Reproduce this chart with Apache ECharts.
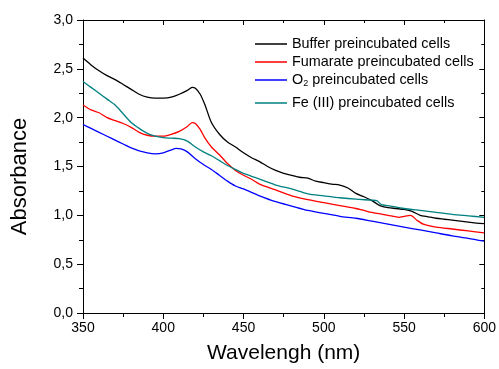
<!DOCTYPE html>
<html>
<head>
<meta charset="utf-8">
<script src="https://cdn.jsdelivr.net/npm/echarts@6/dist/echarts.min.js"></script>
<style>
  html, body { margin: 0; padding: 0; background: #fff; }
  #chart { width: 499px; height: 369px; }
</style>
</head>
<body>
<div id="chart"></div>
<script>
// Absorption spectra of whole cells after different preincubations
const seriesNames = [
  'Buffer preincubated cells',
  'Fumarate preincubated cells',
  'O2 preincubated cells',
  'Fe (III) preincubated cells'
];
const seriesColors = ['#000000', '#ff0000', '#0000ff', '#008080'];

const bufferNm  = [350,355,360,365,370,375,380,385,390,395,400,405,410,415,418,420,423,426,430,435,440,445,450,455,460,465,470,475,480,485,490,495,500,505,510,515,520,525,530,535,540,545,550,555,560,565,570,575,580,585,590,595,600];
const bufferAbs = [2.61,2.54,2.48,2.43,2.39,2.34,2.29,2.24,2.21,2.20,2.20,2.21,2.24,2.28,2.31,2.30,2.24,2.13,1.95,1.83,1.75,1.70,1.64,1.59,1.55,1.50,1.46,1.43,1.41,1.39,1.38,1.35,1.335,1.32,1.31,1.28,1.225,1.19,1.15,1.10,1.08,1.07,1.06,1.04,1.00,0.985,0.97,0.96,0.95,0.94,0.93,0.92,0.915];

const fumarateNm  = [350,355,360,365,370,375,380,385,390,395,400,405,410,415,418,420,423,426,430,435,440,445,450,455,460,470,480,490,500,510,520,525,530,540,547,550,554,558,562,570,580,590,600];
const fumarateAbs = [2.13,2.08,2.05,2.00,1.97,1.94,1.90,1.85,1.82,1.81,1.81,1.83,1.86,1.91,1.95,1.94,1.88,1.79,1.70,1.62,1.53,1.46,1.41,1.37,1.32,1.26,1.20,1.16,1.13,1.10,1.07,1.05,1.03,1.00,0.98,0.99,1.00,0.95,0.91,0.88,0.86,0.84,0.82];

const o2Nm  = [350,355,360,365,370,375,380,385,390,395,400,405,408,411,415,420,425,430,435,440,445,450,460,470,480,490,500,510,520,530,540,550,560,570,580,590,600];
const o2Abs = [1.93,1.89,1.85,1.81,1.77,1.73,1.69,1.66,1.64,1.63,1.64,1.67,1.685,1.68,1.65,1.58,1.52,1.47,1.41,1.35,1.30,1.27,1.20,1.14,1.095,1.05,1.02,0.99,0.97,0.94,0.91,0.88,0.85,0.82,0.79,0.765,0.735];

const ironNm  = [350,355,360,365,370,375,380,385,390,395,400,405,410,415,420,425,430,435,440,445,450,455,460,465,470,480,490,500,510,520,530,533,536,540,550,560,570,580,590,600];
const ironAbs = [2.37,2.31,2.25,2.19,2.13,2.04,1.95,1.89,1.84,1.81,1.795,1.79,1.785,1.76,1.70,1.65,1.61,1.56,1.51,1.47,1.43,1.40,1.37,1.34,1.31,1.27,1.22,1.20,1.18,1.165,1.155,1.15,1.11,1.10,1.07,1.05,1.03,1.01,0.995,0.98];

// x/y tick configuration
const xMin = 350, xMax = 600, xStep = 50;
const yMin = 0, yMax = 3, yStep = 0.5;

const pairs = (xs, ys) => xs.map((x, i) => [x, ys[i]]);
const seriesData = [
  pairs(bufferNm, bufferAbs),
  pairs(fumarateNm, fumarateAbs),
  pairs(o2Nm, o2Abs),
  pairs(ironNm, ironAbs)
];

const FONT = 'Liberation Sans, Arial, sans-serif';
const commaFmt = v => v.toFixed(1).replace('.', ',');

const chart = echarts.init(document.getElementById('chart'), null, { renderer: 'canvas' });

const axisLine = () => ({ show: true, onZero: false, lineStyle: { color: '#000', width: 1 } });

const legendTops = [37, 55, 73, 96];
const legends = seriesNames.map((name, i) => ({
  data: [name],
  left: 255,
  top: legendTops[i],
  icon: 'rect',
  itemWidth: 32,
  itemHeight: 1.5,
  itemGap: 0,
  padding: 0,
  selectedMode: false,
  textStyle: {
    fontFamily: FONT, fontSize: 14.4, color: '#000',
    rich: { sub: { fontFamily: FONT, fontSize: 9, color: '#000', verticalAlign: 'bottom', padding: [8, 0, 0, 0] } }
  },
  formatter: n => n === 'O2 preincubated cells' ? 'O{sub|2} preincubated cells' : n
}));

// top and right edges of the plot frame, in data coordinates
const frameLines = {
  silent: true,
  symbol: ['none', 'none'],
  label: { show: false },
  animation: false,
  lineStyle: { color: '#000', width: 1, type: 'solid' },
  emphasis: { disabled: true },
  data: [
    [{ coord: [xMin, yMax] }, { coord: [xMax, yMax] }],
    [{ coord: [xMax, yMax] }, { coord: [xMax, yMin] }]
  ]
};

const lineSeries = seriesNames.map((name, i) => ({
  name,
  type: 'line',
  data: seriesData[i],
  color: seriesColors[i],
  showSymbol: false,
  symbol: 'none',
  smooth: 0.25,
  clip: false,
  lineStyle: { width: 1.3, color: seriesColors[i] }
}));
lineSeries[0].markLine = frameLines;

chart.setOption({
  backgroundColor: '#fff',
  animation: false,
  grid: { left: 83, right: 14, top: 20, bottom: 56 },
  legend: legends,
  xAxis: [
    {
      type: 'value', min: xMin, max: xMax, interval: xStep,
      name: 'Wavelengh (nm)', nameLocation: 'middle', nameGap: 30,
      nameTextStyle: { fontFamily: FONT, fontSize: 21, color: '#000' },
      axisLine: axisLine(),
      axisTick: { show: true, inside: false, length: 6, lineStyle: { color: '#000' } },
      minorTick: { show: true, splitNumber: 2, length: 4, lineStyle: { color: '#000' } },
      axisLabel: { fontFamily: FONT, fontSize: 14, color: '#000', margin: 8 },
      splitLine: { show: false }
    },
    {
      type: 'value', min: xMin, max: xMax, interval: xStep, position: 'top',
      axisLine: axisLine(),
      axisTick: { show: true, inside: true, length: 5, lineStyle: { color: '#000' } },
      minorTick: { show: true, splitNumber: 2, length: 3, lineStyle: { color: '#000' } },
      axisLabel: { show: false },
      splitLine: { show: false }
    }
  ],
  yAxis: [
    {
      type: 'value', min: yMin, max: yMax, interval: yStep,
      name: 'Absorbance', nameLocation: 'middle', nameGap: 52,
      nameTextStyle: { fontFamily: FONT, fontSize: 22, color: '#000', padding: [0, 20, 0, 0] },
      axisLine: axisLine(),
      axisTick: { show: true, inside: false, length: 6, lineStyle: { color: '#000' } },
      minorTick: { show: true, splitNumber: 2, length: 4, lineStyle: { color: '#000' } },
      axisLabel: { fontFamily: FONT, fontSize: 14, color: '#000', margin: 10, formatter: commaFmt },
      splitLine: { show: false }
    },
    {
      type: 'value', min: yMin, max: yMax, interval: yStep, position: 'right',
      axisLine: axisLine(),
      axisTick: { show: true, inside: true, length: 5, lineStyle: { color: '#000' } },
      minorTick: { show: true, splitNumber: 2, length: 3, lineStyle: { color: '#000' } },
      axisLabel: { show: false },
      splitLine: { show: false }
    }
  ],
  series: lineSeries
});
</script>
</body>
</html>
